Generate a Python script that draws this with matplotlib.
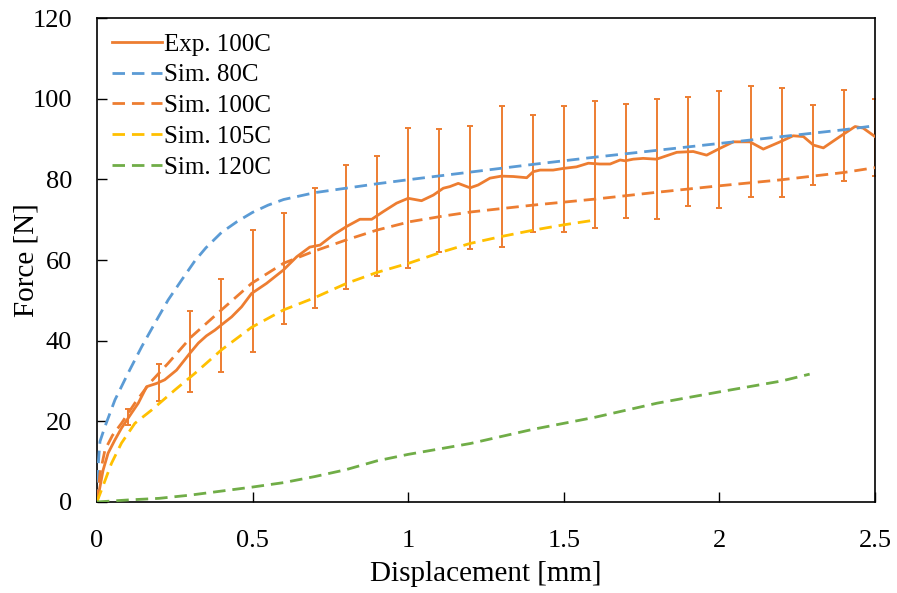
import matplotlib
matplotlib.use("Agg")
import matplotlib.pyplot as plt
from matplotlib.ticker import FuncFormatter

# ---- Exp. 100C (averaged curve)
exp_x = [0.0, 0.004, 0.02, 0.036, 0.058, 0.079, 0.111, 0.133, 0.16, 0.192, 0.218, 0.256,
         0.299, 0.326, 0.352, 0.379, 0.4, 0.433, 0.465, 0.497, 0.545, 0.599, 0.642, 0.684,
         0.717, 0.759, 0.802, 0.845, 0.883, 0.92, 0.963, 1.0, 1.043, 1.081, 1.113, 1.134,
         1.161, 1.199, 1.225, 1.263, 1.3, 1.338, 1.381, 1.402, 1.424, 1.466, 1.498, 1.541,
         1.579, 1.616, 1.649, 1.681, 1.697, 1.723, 1.755, 1.798, 1.863, 1.916, 1.959, 2.002,
         2.045, 2.098, 2.141, 2.195, 2.237, 2.27, 2.302, 2.334, 2.387, 2.436, 2.462, 2.5]
exp_y = [0.0, 1.3, 7.9, 12.1, 15.4, 18.3, 22.0, 24.5, 28.6, 29.4, 30.3, 32.7,
         36.9, 39.4, 41.2, 42.6, 43.9, 45.9, 48.4, 51.7, 54.2, 57.5, 60.8, 63.2,
         63.7, 66.2, 68.3, 70.1, 70.1, 72.0, 74.1, 75.3, 74.7, 76.1, 77.8, 78.2,
         79.0, 77.9, 78.6, 80.3, 80.8, 80.7, 80.4, 81.9, 82.3, 82.3, 82.7, 83.1,
         84.0, 83.8, 83.8, 84.8, 84.6, 85.0, 85.2, 85.0, 86.7, 86.9, 86.0, 87.7,
         89.3, 89.3, 87.5, 89.3, 90.8, 90.6, 88.5, 87.8, 90.6, 93.1, 92.7, 90.6]

# ---- error bars of the experiment
err_x = [0.1, 0.2, 0.3, 0.4, 0.5, 0.6, 0.7, 0.8, 0.9, 1.0, 1.1, 1.2, 1.3,
         1.4, 1.5, 1.6, 1.7, 1.8, 1.9, 2.0, 2.1, 2.2, 2.3, 2.4, 2.5]
err_mid = [21.1, 29.65, 37.3, 43.75, 52.25, 57.9, 63.05, 68.2, 70.85, 75.45, 77.2, 77.95, 80.8,
           81.5, 82.65, 83.7, 84.6, 85.0, 86.9, 87.5, 89.4, 89.2, 88.55, 90.9, 90.4]
err_val = [2.0, 4.55, 10.1, 11.55, 15.15, 13.8, 14.85, 15.3, 14.85, 17.35, 15.3, 15.25, 17.5,
           14.5, 15.65, 15.7, 14.1, 14.8, 13.4, 14.5, 13.7, 13.5, 9.95, 11.2, 9.6]

# ---- simulations
sim80_x = [0.0, 0.005, 0.01, 0.026, 0.058, 0.1, 0.144, 0.186, 0.229, 0.272, 0.315, 0.35,
           0.4, 0.45, 0.5, 0.55, 0.6, 0.7, 0.8, 0.9, 1.0, 1.2, 1.4, 1.6, 1.8, 2.0, 2.2, 2.4, 2.5]
sim80_y = [0.0, 10.0, 15.0, 18.7, 25.3, 31.9, 38.5, 44.3, 50.1, 55.0, 59.8, 63.0,
           66.8, 69.5, 71.8, 73.6, 75.0, 76.7, 77.8, 78.9, 79.9, 81.8, 83.7, 85.5, 87.2, 88.9, 90.6, 92.3, 93.3]

sim100_x = [0.0, 0.01, 0.026, 0.05, 0.079, 0.122, 0.17, 0.229, 0.304, 0.4, 0.497, 0.6,
            0.695, 0.802, 0.899, 1.006, 1.113, 1.2, 1.4, 1.6, 1.8, 2.0, 2.2, 2.4, 2.5]
sim100_y = [0.0, 7.0, 12.9, 16.5, 19.5, 24.5, 29.5, 34.4, 41.0, 47.6, 54.2, 59.2,
            62.1, 65.0, 67.4, 69.5, 70.9, 71.9, 73.6, 75.1, 76.8, 78.4, 79.9, 81.7, 82.9]

sim105_x = [0.0, 0.015, 0.047, 0.079, 0.122, 0.176, 0.251, 0.315, 0.4, 0.497, 0.599,
            0.695, 0.802, 0.899, 1.006, 1.113, 1.199, 1.298, 1.402, 1.498, 1.6]
sim105_y = [0.0, 3.0, 9.6, 14.6, 19.5, 22.8, 27.8, 31.9, 37.7, 43.3, 47.6,
            50.5, 54.2, 56.9, 59.3, 62.1, 64.1, 65.8, 67.4, 68.7, 69.9]

sim120_x = [0.0, 0.1, 0.2, 0.3, 0.4, 0.5, 0.6, 0.7, 0.8, 0.9, 1.0, 1.2, 1.4, 1.6,
            1.8, 2.0, 2.2, 2.29]
sim120_y = [0.0, 0.5, 0.9, 1.7, 2.7, 3.7, 4.8, 6.3, 8.0, 10.2, 11.8, 14.5, 18.0, 21.0,
            24.5, 27.3, 30.0, 31.7]

ORANGE = "#ED7D31"
BLUE = "#5B9BD5"
YELLOW = "#FFC000"
GREEN = "#70AD47"

plt.rcParams["font.family"] = ["Liberation Serif", "DejaVu Serif"]

fig = plt.figure(figsize=(8.97, 5.93), dpi=100)
ax = fig.add_axes([0.108, 0.1535, 0.8675, 0.8161])

dash = (4.5, 2.5)
ax.errorbar(err_x, err_mid, yerr=err_val, fmt="none", ecolor=ORANGE,
            elinewidth=1.4, capsize=2.3, capthick=1.4, zorder=2)
ax.plot(exp_x, exp_y, color=ORANGE, lw=2, label="Exp. 100C", zorder=3)
ax.plot(sim80_x, sim80_y, color=BLUE, lw=2, dashes=dash, label="Sim. 80C", zorder=3)
ax.plot(sim100_x, sim100_y, color=ORANGE, lw=2, dashes=dash, label="Sim. 100C", zorder=3)
ax.plot(sim105_x, sim105_y, color=YELLOW, lw=2, dashes=dash, label="Sim. 105C", zorder=3)
ax.plot(sim120_x, sim120_y, color=GREEN, lw=2, dashes=dash, label="Sim. 120C", zorder=3)

ax.set_xlim(0, 2.5)
ax.set_ylim(0, 120)
ax.set_xticks([0, 0.5, 1, 1.5, 2, 2.5])
ax.set_yticks(range(0, 121, 20))
ax.xaxis.set_major_formatter(FuncFormatter(lambda v, p: f"{v:g}"))
ax.tick_params(direction="in", length=7, width=1, labelsize=19, pad=18)
ax.tick_params(axis="x", pad=20)
for s in ax.spines.values():
    s.set_linewidth(1.2)

ax.set_xlabel("Displacement [mm]", fontsize=21, labelpad=7)
ax.set_ylabel("Force [N]", fontsize=21, labelpad=-5)

ax.legend(loc="upper left", frameon=False, fontsize=18, handlelength=2.0,
          handletextpad=0.1, labelspacing=0.33, borderaxespad=0.2,
          bbox_to_anchor=(0.0, 1.0))

fig.savefig("out.png", dpi=100)
